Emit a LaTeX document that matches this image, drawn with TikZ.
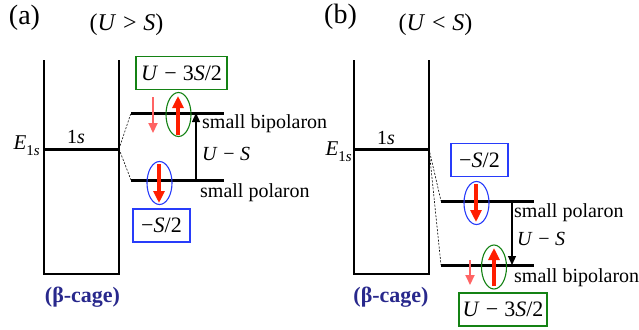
\documentclass[tikz,border=0pt]{standalone}
\usepackage{fontspec}
\setmainfont{Liberation Serif}
\usetikzlibrary{arrows.meta,shapes.geometric}
\definecolor{redA}{RGB}{255,30,0}
\definecolor{pinkA}{RGB}{255,100,100}
\definecolor{grn}{RGB}{20,130,20}
\definecolor{blu}{RGB}{40,60,250}
\definecolor{navy}{RGB}{40,40,140}
\newcommand{\mi}[1]{\textit{#1}}
\newcommand{\msp}{\hspace{0.28em}}
\begin{document}
\begin{tikzpicture}[x=1pt,y=-1pt,
  lbl/.style={font=\fontsize{20}{22}\selectfont, inner sep=0pt},
  big/.style={font=\fontsize{24}{26}\selectfont, inner sep=0pt},
  panel/.style={font=\fontsize{28}{30}\selectfont, inner sep=0pt},
  cage/.style={font=\fontsize{22}{24}\selectfont\bfseries, text=navy, inner sep=0pt},
  wall/.style={line width=1.3pt},
  level/.style={line width=3pt},
  conn/.style={line width=0.6pt, dash pattern=on 2pt off 1.5pt},
  gaparrow/.style={line width=1.2pt, -{Triangle[length=9pt,width=8pt]}},
  spinred/.style={draw=redA, line width=3.5pt, -{Triangle[length=12pt,width=11pt]}},
  spinpink/.style={draw=pinkA, line width=2pt, -{Triangle[length=10pt,width=9pt]}},
  gbox/.style={draw=grn, line width=1.3pt, minimum height=33pt, inner sep=0pt, font=\fontsize{22}{24}\selectfont},
  bbox/.style={draw=blu, line width=1.3pt, minimum height=33pt, inner sep=0pt, font=\fontsize{22}{24}\selectfont},
  gell/.style={ellipse, draw=grn, line width=1.1pt, minimum width=25pt, minimum height=44pt, inner sep=0pt},
  bell/.style={ellipse, draw=blu, line width=1.1pt, minimum width=25pt, minimum height=43pt, inner sep=0pt}
]
\useasboundingbox (0,0) rectangle (639,329);

% ---------------- panel (a) ----------------
\node[panel] (pa) at (24.5,17.5) {(a)};
\node[big] (ca) at (126.5,25) {(\mi{U}\msp>\msp\mi{S})};
\coordinate (aWTL) at (44,60);
\coordinate (aWBL) at (44,274);
\coordinate (aWBR) at (119,274);
\coordinate (aWTR) at (119,60);
\draw[wall] (aWTL) -- (aWBL) -- (aWBR) -- (aWTR);
\coordinate (a1L) at (44,149);
\coordinate (a1R) at (119,149);
\draw[level] (a1L) -- (a1R);
\node[lbl, anchor=base east] (aE) at (40,149) {\fontsize{21}{23}\selectfont\mi{E}\raisebox{-0.3em}{\fontsize{15}{17}\selectfont 1\mi{s}}};
\node[lbl, anchor=base] (a1s) at (76,143) {1\mi{s}};
\coordinate (abL) at (131,113);
\coordinate (abR) at (224,113);
\coordinate (apL) at (131,180);
\coordinate (apR) at (224,180);
\draw[level] (abL) -- (abR);
\draw[level] (apL) -- (apR);
\draw[conn] (a1R) -- (abL);
\draw[conn] (a1R) -- (apL);
\coordinate (agB) at (196,180);
\coordinate (agT) at (196,113);
\draw[gaparrow] (agB) -- (agT);
\node[lbl, anchor=base west] (abip) at (202,128) {small bipolaron};
\node[lbl, anchor=base west] (aUS) at (202,160) {\mi{U}\msp−\msp\mi{S}};
\node[lbl, anchor=base west] (apol) at (200,197) {small polaron};
\node[gell] (aGe) at (178.5,114.5) {};
\node[bell] (aBe) at (159.5,183) {};
\coordinate (aRu1) at (178,135);
\coordinate (aRu2) at (178,96);
\draw[spinred] (aRu1) -- (aRu2);
\coordinate (aPk1) at (153,97);
\coordinate (aPk2) at (153,133);
\draw[spinpink] (aPk1) -- (aPk2);
\coordinate (aRd1) at (159,164);
\coordinate (aRd2) at (159,203);
\draw[spinred] (aRd1) -- (aRd2);
\node[gbox, minimum width=91pt] (aGb) at (181.5,73) {\mi{U}\msp−\msp3\mi{S}/2};
\node[bbox, minimum width=57pt] (aBb) at (161.5,225.5) {−\mi{S}/2};
\node[cage] (acage) at (82.5,297) {(β-cage)};

% ---------------- panel (b) ----------------
\node[panel] (pb) at (340.5,16.5) {(b)};
\node[big] (cb) at (435.5,25) {(\mi{U}\msp<\msp\mi{S})};
\coordinate (bWTL) at (354,60);
\coordinate (bWBL) at (354,274);
\coordinate (bWBR) at (429,274);
\coordinate (bWTR) at (429,60);
\draw[wall] (bWTL) -- (bWBL) -- (bWBR) -- (bWTR);
\coordinate (b1L) at (354,149);
\coordinate (b1R) at (429,149);
\draw[level] (b1L) -- (b1R);
\node[lbl, anchor=base east] (bE) at (352,155) {\fontsize{21}{23}\selectfont\mi{E}\raisebox{-0.3em}{\fontsize{15}{17}\selectfont 1\mi{s}}};
\node[lbl, anchor=base] (b1s) at (386,144) {1\mi{s}};
\coordinate (bpL) at (441,201);
\coordinate (bpR) at (534,201);
\coordinate (bbL) at (441,265);
\coordinate (bbR) at (534,265);
\draw[level] (bpL) -- (bpR);
\draw[level] (bbL) -- (bbR);
\draw[conn] (b1R) -- (bpL);
\draw[conn] (b1R) -- (bbL);
\coordinate (bgT) at (512,201);
\coordinate (bgB) at (512,265);
\draw[gaparrow] (bgT) -- (bgB);
\node[lbl, anchor=base west] (bpol) at (514,217) {small polaron};
\node[lbl, anchor=base west] (bUS) at (517,245) {\mi{U}\msp−\msp\mi{S}};
\node[lbl, anchor=base west] (bbip) at (514,282) {small bipolaron};
\node[bell] (bBe) at (476.5,203) {};
\node[gell] (bGe) at (494,267) {};
\coordinate (bRd1) at (476,184);
\coordinate (bRd2) at (476,222);
\draw[spinred] (bRd1) -- (bRd2);
\coordinate (bRu1) at (494,286);
\coordinate (bRu2) at (494,248);
\draw[spinred] (bRu1) -- (bRu2);
\coordinate (bPk1) at (470,260);
\coordinate (bPk2) at (470,285);
\draw[spinpink] (bPk1) -- (bPk2);
\node[bbox, minimum width=57pt] (bBb) at (479.5,160) {−\mi{S}/2};
\node[gbox, minimum width=88pt] (bGb) at (503,309.5) {\mi{U}\msp−\msp3\mi{S}/2};
\node[cage] (bcage) at (391,297) {(β-cage)};
\end{tikzpicture}
\end{document}
